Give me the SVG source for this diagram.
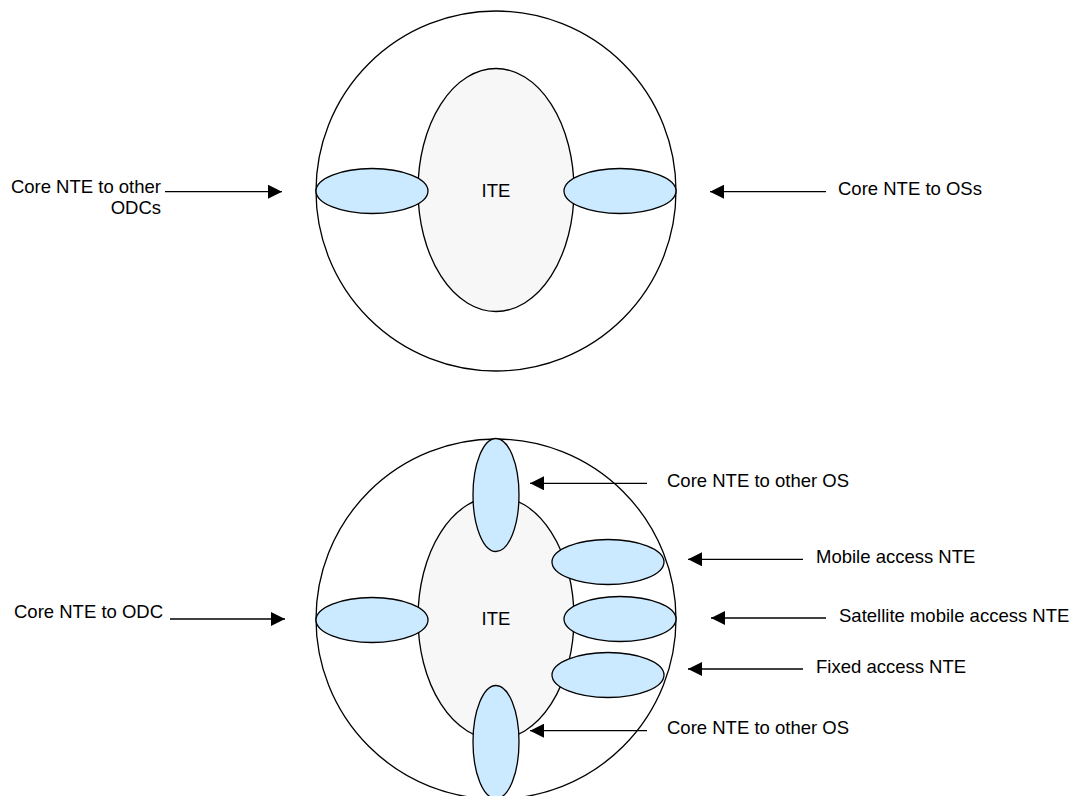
<svg xmlns="http://www.w3.org/2000/svg" width="1072" height="796" viewBox="0 0 1072 796">
<style>
.outer{fill:#ffffff;stroke:#000;stroke-width:1.3}
.ite{fill:#f7f7f7;stroke:#000;stroke-width:1.3}
.nte{fill:#cceaff;stroke:#000;stroke-width:1.3}
.lbl{font-family:"Liberation Sans",Arial,sans-serif;font-size:18.5px;fill:#000}
.conn{stroke:#000;stroke-width:1.3;fill:none;marker-end:url(#ah)}
</style>
<defs>
<marker id="ah" markerUnits="userSpaceOnUse" markerWidth="14" markerHeight="14" refX="14" refY="7" orient="auto">
<path d="M0,0 L14,7 L0,14 z" fill="#000"/>
</marker>
</defs>
<rect width="1072" height="796" fill="#fff"/>
<g id="site-top">
<circle class="outer" cx="496" cy="191" r="180"/>
</g>
<g id="ite-top">
<ellipse class="ite" cx="496" cy="190" rx="78" ry="121.5"/>
<text class="lbl" x="496" y="197" text-anchor="middle">ITE</text>
</g>
<g id="nte-top-left"><ellipse class="nte" cx="372" cy="191" rx="56" ry="22.5"/></g>
<g id="nte-top-right"><ellipse class="nte" cx="620" cy="191" rx="56" ry="22.5"/></g>
<g id="site-bottom">
<circle class="outer" cx="496" cy="619" r="180"/>
</g>
<g id="ite-bottom">
<ellipse class="ite" cx="496" cy="618" rx="78" ry="121.5"/>
<text class="lbl" x="496" y="625" text-anchor="middle">ITE</text>
</g>
<g id="nte-bottom-left"><ellipse class="nte" cx="372" cy="620" rx="56" ry="22.5"/></g>
<g id="nte-bottom-top"><ellipse class="nte" cx="496" cy="495" rx="23" ry="56.5"/></g>
<g id="nte-bottom-bottom"><ellipse class="nte" cx="496" cy="742" rx="23" ry="56.5"/></g>
<g id="nte-mobile"><ellipse class="nte" cx="608" cy="562" rx="56" ry="22.5"/></g>
<g id="nte-satellite"><ellipse class="nte" cx="620" cy="619" rx="56" ry="22.5"/></g>
<g id="nte-fixed"><ellipse class="nte" cx="608" cy="675" rx="56" ry="22.5"/></g>
<g id="connectors">
<line class="conn" x1="165" y1="191.7" x2="282" y2="191.7"/>
<line class="conn" x1="826" y1="191.7" x2="710" y2="191.7"/>
<line class="conn" x1="170" y1="619" x2="285" y2="619"/>
<line class="conn" x1="647" y1="483.3" x2="530" y2="483.3"/>
<line class="conn" x1="803" y1="559.3" x2="688" y2="559.3"/>
<line class="conn" x1="826" y1="618" x2="711" y2="618"/>
<line class="conn" x1="803" y1="669" x2="688" y2="669"/>
<line class="conn" x1="647" y1="730.7" x2="530" y2="730.7"/>
</g>
<g id="labels">
<text class="lbl" x="161" y="193" text-anchor="end">Core NTE to other</text>
<text class="lbl" x="161" y="214" text-anchor="end">ODCs</text>
<text class="lbl" x="838" y="194.5">Core NTE to OSs</text>
<text class="lbl" x="14" y="618">Core NTE to ODC</text>
<text class="lbl" x="667" y="486.5">Core NTE to other OS</text>
<text class="lbl" x="816" y="562.5">Mobile access NTE</text>
<text class="lbl" x="839" y="621.5">Satellite mobile access NTE</text>
<text class="lbl" x="816" y="672.5">Fixed access NTE</text>
<text class="lbl" x="667" y="734">Core NTE to other OS</text>
</g>
</svg>
